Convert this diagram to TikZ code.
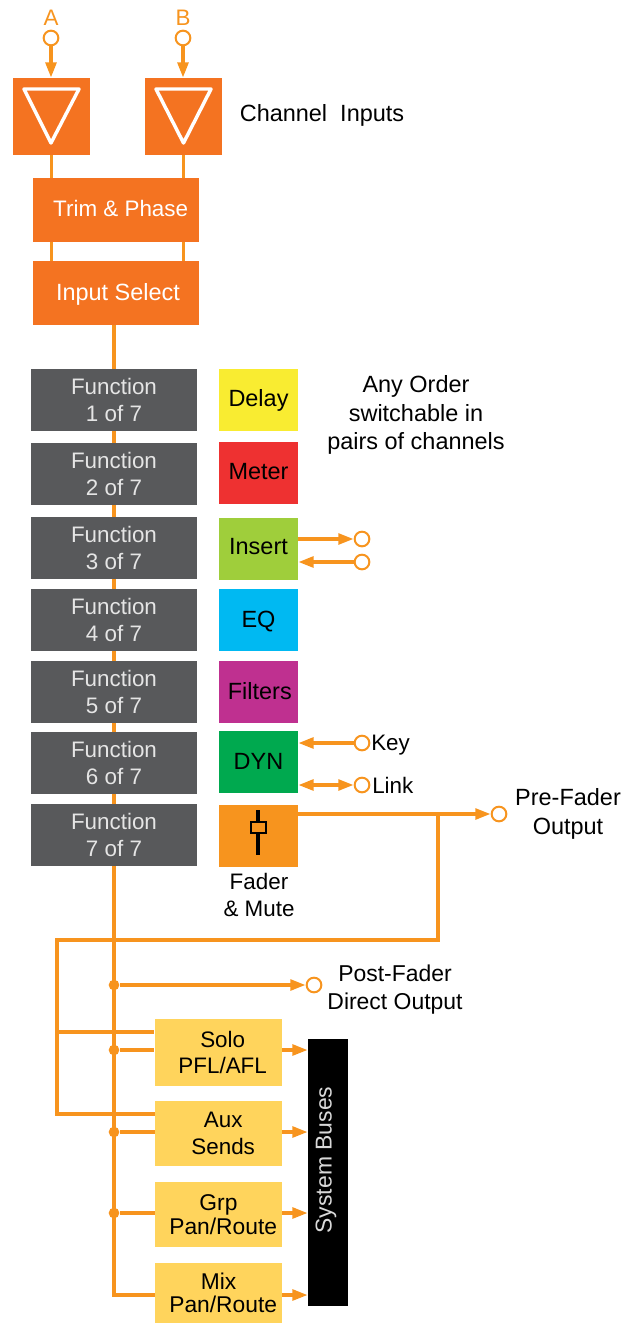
\documentclass[tikz,border=0pt]{standalone}
\usepackage{fontspec}
\setmainfont{Liberation Sans}
\usetikzlibrary{arrows.meta,backgrounds}
\definecolor{ampOrange}{HTML}{F47321}
\definecolor{wireOrange}{HTML}{F7941E}
\definecolor{fnGrey}{HTML}{58595B}
\definecolor{sendYellow}{HTML}{FFD45C}
\definecolor{delayYellow}{HTML}{F9EC31}
\definecolor{meterRed}{HTML}{EE3131}
\definecolor{insertGreen}{HTML}{9FCE3B}
\definecolor{eqBlue}{HTML}{00B9F2}
\definecolor{filterPurple}{HTML}{BF3090}
\definecolor{dynGreen}{HTML}{00A94F}

\begin{document}
\begin{tikzpicture}[
    x=0.75pt, y=-0.75pt,
    every node/.style={font=\fontsize{16.8}{20}\selectfont, align=center, inner sep=0pt},
    note/.style={font=\fontsize{17.6}{21.3}\selectfont},
    tight/.style={font=\fontsize{17.1}{17.5}\selectfont},
    amp/.style={fill=ampOrange, minimum width=57.75pt, minimum height=57.75pt},
    stage/.style={fill=ampOrange, text=white, minimum width=124.5pt, minimum height=48pt},
    func/.style={fill=fnGrey, text=white!90!black, minimum width=124.5pt, minimum height=46.5pt},
    proc/.style={note, minimum width=59.25pt, minimum height=46.5pt},
    send/.style={fill=sendYellow, minimum width=95.25pt},
    port/.style={draw=wireOrange, fill=white, circle, line width=1.5pt, minimum size=11pt},
    dot/.style={fill=wireOrange, circle, minimum size=8pt},
    wire/.style={draw=wireOrange, line width=2.6pt},
    link/.style={wire, -{Triangle[length=11.5pt, width=8pt]}},
    linkb/.style={wire, {Triangle[length=11.5pt, width=8pt]}-{Triangle[length=11.5pt, width=8pt]}},
    ampmark/.style={draw=white, line width=2.6pt, line join=round}
]
% inputs
\node[port] (inA) at (51,38) {};
\node[port] (inB) at (183,38) {};
\node[text=wireOrange, above=3pt] (labA) at (inA.north) {A};
\node[text=wireOrange, above=3pt] (labB) at (inB.north) {B};
\node[amp] (ampA) at (51.5,116.5) {};
\node[amp] (ampB) at (183.5,116.5) {};
\draw[ampmark] (24,89) -- (79,89) -- (51,143) -- cycle;
\draw[ampmark] (156,89) -- (211,89) -- (183.5,143) -- cycle;
\node[note] (chan) at (322,115) {Channel\ \ Inputs};
\node[stage, text depth=3pt] (trim) at (116,210) {\hspace*{7pt}Trim \& Phase};
\node[stage, note, text height=15pt] (input) at (116,293) {\hspace*{3pt}Input Select};

% function slots
\node[func] (fn1) at (114,400) {Function\\1 of 7};
\node[func] (fn2) at (114,474) {Function\\2 of 7};
\node[func] (fn3) at (114,548) {Function\\3 of 7};
\node[func] (fn4) at (114,620) {Function\\4 of 7};
\node[func] (fn5) at (114,692) {Function\\5 of 7};
\node[func] (fn6) at (114,763) {Function\\6 of 7};
\node[func] (fn7) at (114,835) {Function\\7 of 7};

% processing blocks
\node[proc, fill=delayYellow] (delay) at (258.5,400) {Delay};
\node[proc, fill=meterRed, text depth=3pt] (meter) at (258.5,473) {Meter};
\node[proc, fill=insertGreen, text depth=4.5pt] (insert) at (258.5,549) {Insert};
\node[proc, fill=eqBlue, text height=15pt] (eq) at (258.5,620) {EQ};
\node[proc, fill=filterPurple, text depth=1.5pt] (filters) at (258.5,692) {\hspace*{2pt}Filters};
\node[proc, fill=dynGreen, text depth=1.5pt] (dyn) at (258.5,762) {DYN};
\node[proc, fill=wireOrange] (fader) at (258.5,835.5) {};
\draw[black, line width=2.4pt] (258,810) -- (258,855);
\draw[black, fill=wireOrange, line width=1.5pt] (251,822) rectangle (266,833);
\node (fadertxt) at (259,895) {Fader\\\& Mute};
\node[note] (anyorder) at (416,415) {Any Order\\switchable in\\pairs of channels};

% ports on the right
\node[port] (insOut) at (362,539) {};
\node[port] (insRet) at (362,562) {};
\node[port] (key) at (362,743) {};
\node[port] (lnk) at (362,785) {};
\node[port] (pre) at (499,814) {};
\node[port] (post) at (314,985) {};
\node[anchor=west] (keytxt) at (371,745) {Key};
\node[anchor=west] (lnktxt) at (372,785) {Link};
\node[note] (pretxt) at (568,814) {Pre-Fader\\Output};
\node[font=\fontsize{17.2}{21}\selectfont] (posttxt) at (395,990) {Post-Fader\\Direct Output};

% sends and buses
\node[send, minimum height=50.25pt] (solo) at (218,1052.5) {\hspace*{7pt}Solo\\\hspace*{7pt}PFL/AFL};
\node[send, minimum height=48.75pt] (aux) at (218.5,1133.5) {\hspace*{7pt}Aux\\\hspace*{7pt}Sends};
\node[send, tight, minimum height=48.75pt] (grp) at (218.5,1214.5) {Grp\\\hspace*{7pt}Pan/Route};
\node[send, tight, minimum height=45pt] (mix) at (218.5,1293) {Mix\\\hspace*{7pt}Pan/Route};
\node[fill=black, minimum width=30pt, minimum height=200pt] (buses) at (328,1172.5) {};
\node[rotate=90, text=white!85!black, font=\fontsize{17.2}{20}\selectfont] (bustxt) at (326,1160) {System Buses};

% taps on the signal path
\node[dot] (tapPost) at (114,985) {};
\node[dot] (tapSolo) at (114,1050) {};
\node[dot] (tapAux) at (114,1132) {};
\node[dot] (tapGrp) at (114,1213) {};
\coordinate (tapMix) at (114,1295);
\coordinate (preTurn) at (438,814);
\coordinate (cueTop) at (57,940);
\coordinate (cueSolo) at (57,1032);
\coordinate (cueAux) at (57,1114);

\begin{scope}[on background layer]
\draw[link] (inA) -- (inA |- ampA.north);
\draw[link] (inB) -- (inB |- ampB.north);
\draw[wire] (ampA) -- (ampA |- input.north);
\draw[wire] (ampB) -- (ampB |- input.north);
\draw[wire] (fn1.north |- input.south) -- (tapMix) -- (tapMix -| mix.west);
\draw[link] (insOut -| insert.east) -- (insOut.west);
\draw[link] (insRet.west) -- (insRet -| insert.east);
\draw[link] (key.west) -- (key -| dyn.east);
\draw[linkb] (lnk -| dyn.east) -- (lnk.west);
\draw[link] (pre -| fader.east) -- (pre.west);
\draw[wire] (preTurn) -- (preTurn |- cueTop) -- (cueTop) -- (cueAux) -- (cueAux -| aux.west);
\draw[wire] (cueSolo) -- (cueSolo -| solo.west);
\draw[link] (tapPost) -- (post.west);
\draw[wire] (tapSolo) -- (tapSolo -| solo.west);
\draw[wire] (tapAux) -- (tapAux -| aux.west);
\draw[wire] (tapGrp) -- (tapGrp -| grp.west);
\draw[link] (tapSolo -| solo.east) -- (tapSolo -| buses.west);
\draw[link] (tapAux -| aux.east) -- (tapAux -| buses.west);
\draw[link] (tapGrp -| grp.east) -- (tapGrp -| buses.west);
\draw[link] (tapMix -| mix.east) -- (tapMix -| buses.west);
\end{scope}
\useasboundingbox (0,0) rectangle (631,1323);
\end{tikzpicture}
\end{document}
